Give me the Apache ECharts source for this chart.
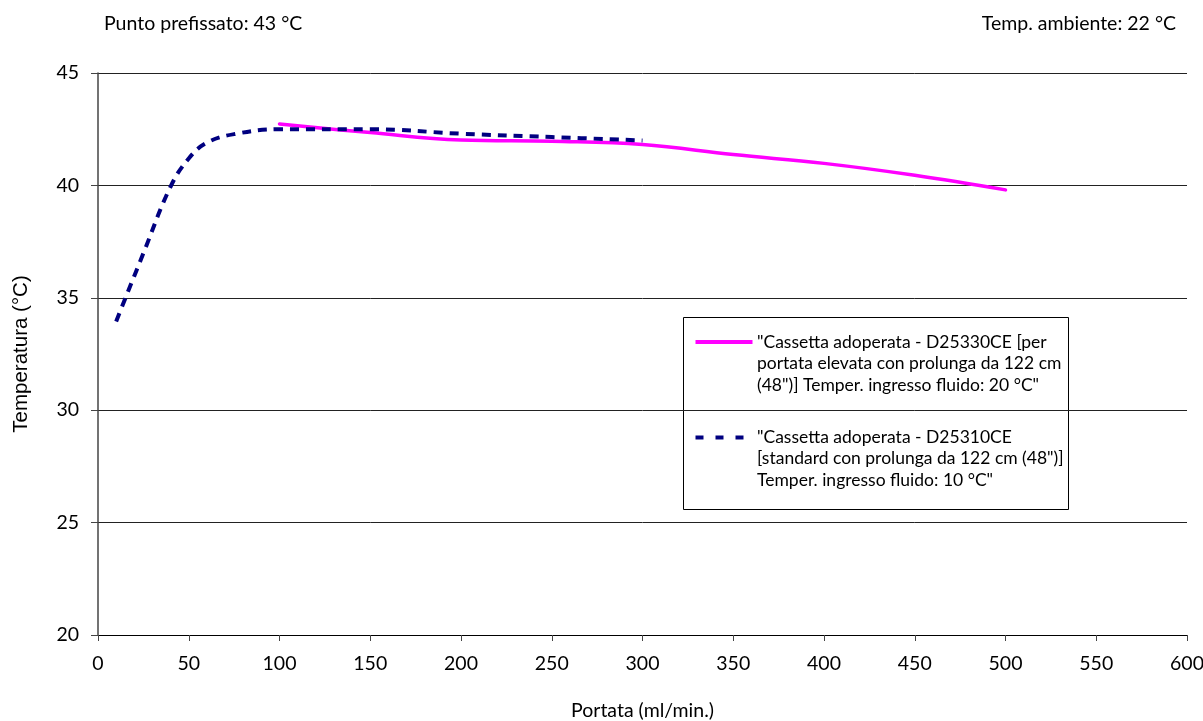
<!DOCTYPE html>
<html>
<head>
<meta charset="utf-8">
<script src="https://cdn.jsdelivr.net/npm/echarts@6/dist/echarts.min.js"></script>
<style>
  html, body { margin: 0; padding: 0; background: #fff; }
  #main { width: 1203px; height: 721px; }
</style>
</head>
<body>
<div id="main"></div>
<script>
// portata (ml/min) e temperatura (°C)
const flowHigh = [100, 150, 200, 250, 300, 350, 400, 450, 500];
const tempHigh = [42.73, 42.35, 42.02, 41.96, 41.82, 41.37, 40.98, 40.45, 39.8];

const flowStd = [10, 25, 40, 50, 60, 75, 100, 150, 200, 250, 300];
const tempStd = [33.95, 36.98, 39.95, 41.2, 41.9, 42.28, 42.5, 42.5, 42.3, 42.15, 42.0];

const nameHigh = '"Cassetta adoperata - D25330CE [per\nportata elevata con prolunga da 122 cm\n(48")] Temper. ingresso fluido: 20 °C"';
const nameStd = '"Cassetta adoperata - D25310CE\n[standard con prolunga da 122 cm (48")]\nTemper. ingresso fluido: 10 °C"';

const FONT = 'Lato';
const FS = 19.5;
const colHigh = '#ff00ff';
const colStd = '#000080';

function pairs(xs, ys) {
  let out = [];
  for (let i = 0; i < xs.length; ++i) {
    out.push([xs[i], ys[i]]);
  }
  return out;
}

var myChart = echarts.init(document.getElementById('main'));

var option = {
  animation: false,
  textStyle: { fontFamily: FONT, color: '#000' },
  title: [{
    text: 'Punto prefissato: 43 °C',
    left: 104,
    top: 14,
    padding: 0,
    textStyle: { fontFamily: FONT, fontSize: FS, fontWeight: 'normal', color: '#000' }
  }, {
    text: 'Temp. ambiente: 22 °C',
    right: 27,
    top: 14,
    padding: 0,
    textStyle: { fontFamily: FONT, fontSize: FS, fontWeight: 'normal', color: '#000' }
  }],
  grid: {
    left: 98,
    right: 16,
    top: 73,
    bottom: 86,
    outerBoundsMode: 'none'
  },
  xAxis: {
    type: 'value',
    min: 0,
    max: 600,
    interval: 50,
    name: 'Portata (ml/min.)',
    nameLocation: 'middle',
    nameGap: 66,
    nameTextStyle: { fontFamily: FONT, fontSize: FS, color: '#000' },
    axisLine: { lineStyle: { color: '#000', width: 1 } },
    axisTick: { show: true, length: 6, inside: false, lineStyle: { color: '#444' } },
    axisLabel: { fontFamily: FONT, fontSize: FS, color: '#000', margin: 19 },
    splitLine: { show: false }
  },
  yAxis: {
    type: 'value',
    min: 20,
    max: 45,
    interval: 5,
    name: 'Temperatura (°C)',
    nameLocation: 'middle',
    nameGap: 66,
    nameTextStyle: { fontFamily: 'Liberation Sans', fontSize: 20.5, color: '#000' },
    axisLine: { show: true, lineStyle: { color: '#444', width: 1.5 } },
    axisTick: { show: true, length: 7, lineStyle: { color: '#444' } },
    axisLabel: { fontFamily: FONT, fontSize: FS, color: '#000', margin: 19 },
    splitLine: { show: true, lineStyle: { color: '#222', width: 1 } }
  },
  series: [{
    name: nameHigh,
    type: 'line',
    data: pairs(flowHigh, tempHigh),
    smooth: 0.4,
    symbol: 'none',
    lineStyle: { color: colHigh, width: 3.5, cap: 'round' },
    z: 2
  }, {
    name: nameStd,
    type: 'line',
    data: pairs(flowStd, tempStd),
    smooth: 0.4,
    symbol: 'none',
    lineStyle: { color: colStd, width: 4, type: [9, 7] },
    z: 3
  }],
  // legenda disegnata a mano: l'icona sta sulla prima riga del testo
  graphic: [{
    type: 'group',
    left: 683,
    top: 317,
    z: 10,
    children: [{
      type: 'rect',
      shape: { x: 0, y: 0, width: 385, height: 192 },
      style: { fill: '#fff', stroke: '#000', lineWidth: 1 }
    }, {
      type: 'line',
      shape: { x1: 12, y1: 24.5, x2: 69, y2: 24.5 },
      style: { stroke: colHigh, lineWidth: 4 }
    }, {
      type: 'text',
      x: 73.5,
      y: 14,
      style: { text: nameHigh, font: '17.5px ' + FONT, lineHeight: 21.5, fill: '#000' }
    }, {
      type: 'line',
      shape: { x1: 12, y1: 120, x2: 69, y2: 120 },
      style: { stroke: colStd, lineWidth: 4, lineDash: [8, 12] }
    }, {
      type: 'text',
      x: 73.5,
      y: 109,
      style: { text: nameStd, font: '17.5px ' + FONT, lineHeight: 21.5, fill: '#000' }
    }]
  }]
};

myChart.setOption(option);
</script>
</body>
</html>
